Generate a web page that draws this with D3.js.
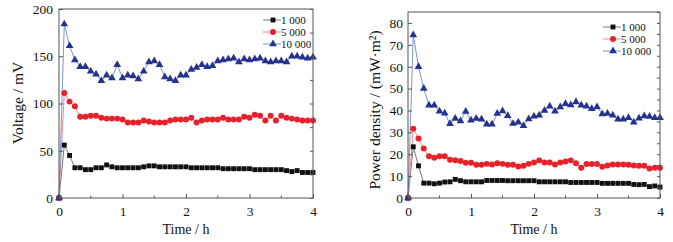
<!DOCTYPE html>
<html>
<head>
<meta charset="utf-8">
<script src="https://cdn.jsdelivr.net/npm/d3@7"></script>
<style>
  body { margin: 0; background: #fff; }
  svg { display: block; font-family: "Liberation Serif", "DejaVu Serif", serif; }
</style>
</head>
<body>
<div id="chart"></div>
<script>
// time points (h), every 5 min
const times = d3.range(49).map(i => i / 12);
const seriesNames = ['1 000', '5 000', '10 000'];

// voltage / mV
const volt1000 = [0, 56, 45, 32, 32, 30, 30, 32, 32, 35, 33, 32, 32, 32, 32, 32, 33, 34, 34, 33,
  33, 33, 33, 33, 33, 32, 32, 32, 32, 32, 32, 31, 31, 31, 31, 31, 31, 30, 30, 30,
  30, 30, 30, 29, 28, 29, 27, 27, 27];
const volt5000 = [0, 111, 102, 97, 86, 86, 87, 87, 85, 84, 84, 84, 83, 80, 80, 80, 82, 81, 80, 80,
  80, 82, 83, 83, 83, 85, 80, 82, 83, 83, 83, 85, 83, 83, 83, 86, 85, 88, 87, 82,
  87, 82, 87, 85, 84, 83, 82, 82, 82];
const volt10000 = [0, 184, 161, 146, 139, 139, 134, 131, 124, 130, 127, 141, 127, 130, 129, 126, 134, 144, 145, 141,
  128, 126, 124, 130, 130, 136, 138, 141, 139, 140, 145, 146, 147, 148, 144, 147, 146, 147, 148, 145,
  144, 145, 145, 144, 150, 150, 149, 148, 149];

// power density / (mW·m-2)
const pow1000 = [0, 23.4, 14.7, 6.8, 6.8, 6.5, 6.8, 7.3, 7.4, 8.5, 7.9, 7.4, 7.4, 7.4, 7.4, 8.0, 8.0, 8.0, 8.0, 7.9,
  7.9, 7.9, 7.9, 7.9, 7.9, 7.4, 7.4, 7.4, 7.4, 7.4, 7.4, 7.1, 7.1, 7.1, 7.1, 7.1, 7.1, 6.7, 6.7, 6.7,
  6.7, 6.7, 6.7, 6.2, 6.1, 6.2, 5.2, 5.5, 5.0];
const pow5000 = [0, 31.7, 27.2, 22.6, 19.1, 18.4, 19.1, 19.1, 17.5, 17.3, 16.9, 16.1, 16.1, 15.2, 15.2, 15.6, 15.3, 15.9, 15.6, 15.2,
  15.2, 14.4, 14.7, 15.6, 16.2, 17.2, 16.2, 16.2, 15.3, 16.2, 16.7, 17.2, 15.9, 13.8, 15.5, 15.5, 15.5, 14.3, 14.9, 15.3,
  15.3, 15.3, 15.2, 14.9, 14.7, 14.7, 13.5, 13.8, 13.8];
const pow10000 = [0, 74.5, 60, 50, 42.4, 42.4, 39.6, 38.7, 33.9, 36.3, 35.2, 39.5, 35.5, 36.3, 36, 33.7, 33.7, 38.6, 39.8, 37.6,
  34, 34.6, 33, 36.1, 37.3, 37.8, 40, 41.9, 39.6, 41.6, 43.1, 42.5, 43.9, 42.4, 41.9, 40.8, 41.6, 38.4, 38.6, 37.8,
  36, 36, 36.7, 34.6, 36.4, 37.5, 37.2, 36.7, 36.7];

const xTicks = [0, 1, 2, 3, 4];
const voltTicks = [0, 50, 100, 150, 200];
const powTicks = [0, 10, 20, 30, 40, 50, 60, 70, 80];

const markColor = ['#111', '#e8202a', '#24338f'];
const lineColor = ['#777', '#f08a8a', '#7d95d6'];
const symbols = [d3.symbolSquare, d3.symbolCircle, d3.symbolTriangle];
const symSize = [24, 28, 26];

const W = 673, H = 242;
const svg = d3.select('#chart').append('svg').attr('width', W).attr('height', H);

function drawPanel(cfg) {
  const g = svg.append('g');
  const x = d3.scaleLinear().domain([0, 4]).range([cfg.left, cfg.right]);
  const y = d3.scaleLinear().domain(cfg.yDomain).range([cfg.bottom, cfg.top]);

  // series lines
  cfg.series.forEach((vals, k) => {
    const pts = times.map((t, i) => [t, vals[i]]);
    g.append('path')
      .datum(pts)
      .attr('fill', 'none')
      .attr('stroke', lineColor[k])
      .attr('stroke-width', 1)
      .attr('d', d3.line().x(d => x(d[0])).y(d => y(d[1])));
  });
  cfg.series.forEach((vals, k) => {
    g.selectAll(null)
      .data(times.map((t, i) => [t, vals[i]]))
      .enter().append('path')
      .attr('transform', d => `translate(${x(d[0])},${y(d[1])})`)
      .attr('d', d3.symbol().type(symbols[k]).size(symSize[k]))
      .attr('fill', markColor[k]);
  });

  // frame
  g.append('rect')
    .attr('x', cfg.left).attr('y', cfg.top)
    .attr('width', cfg.right - cfg.left).attr('height', cfg.bottom - cfg.top)
    .attr('fill', 'none').attr('stroke', '#555').attr('stroke-width', 1);

  // x axis (inward ticks)
  const xa = g.append('g').attr('transform', `translate(0,${cfg.bottom})`)
    .call(d3.axisBottom(x).tickValues(xTicks).tickSize(-4).tickPadding(8).tickFormat(d3.format('d')));
  xa.append('g').selectAll('line').data([0.5, 1.5, 2.5, 3.5]).enter().append('line')
    .attr('x1', d => x(d)).attr('x2', d => x(d)).attr('y1', 0).attr('y2', -2.5).attr('stroke', '#555');

  // y axis left
  const ya = g.append('g').attr('transform', `translate(${cfg.left},0)`)
    .call(d3.axisLeft(y).tickValues(cfg.yTicks).tickSize(-4).tickPadding(cfg.pad));
  // mirrored ticks on right
  const yr = g.append('g').attr('transform', `translate(${cfg.right},0)`)
    .call(d3.axisRight(y).tickValues(cfg.minorTicks).tickSize(-3).tickFormat(''));

  [xa, ya, yr].forEach(a => {
    a.select('.domain').remove();
    a.selectAll('.tick line').attr('stroke', '#555');
    a.selectAll('text').attr('fill', '#111').attr('font-size', '13.5px')
      .attr('font-family', '"Liberation Serif", serif');
  });

  // titles
  g.append('text')
    .attr('x', (cfg.left + cfg.right) / 2).attr('y', 234)
    .attr('text-anchor', 'middle').attr('font-size', '14px').attr('fill', '#111')
    .text('Time / h');
  g.append('text')
    .attr('transform', `translate(${cfg.titleX},${cfg.titleY}) rotate(-90)`)
    .attr('text-anchor', 'middle').attr('font-size', '15.5px').attr('fill', '#111')
    .text(cfg.yTitle);

  // legend
  seriesNames.forEach((name, k) => {
    const ly = cfg.legY + k * 12;
    g.append('line')
      .attr('x1', cfg.legX).attr('x2', cfg.legX + 18).attr('y1', ly).attr('y2', ly)
      .attr('stroke', lineColor[k]).attr('stroke-width', 1);
    g.append('path')
      .attr('transform', `translate(${cfg.legX + 10},${ly})`)
      .attr('d', d3.symbol().type(symbols[k]).size(symSize[k]))
      .attr('fill', markColor[k]);
    g.append('text')
      .attr('x', cfg.legX + 18).attr('y', ly + 4)
      .attr('font-size', '11px').attr('fill', '#111')
      .text(name);
  });
}

drawPanel({
  left: 59, right: 313, top: 9, bottom: 198,
  yDomain: [0, 200], yTicks: voltTicks, minorTicks: d3.range(0, 201, 25),
  series: [volt1000, volt5000, volt10000],
  yTitle: 'Voltage / mV', titleX: 23, titleY: 103, pad: 6,
  legX: 263, legY: 20
});
drawPanel({
  left: 408, right: 660, top: 12, bottom: 198,
  yDomain: [0, 85], yTicks: powTicks, minorTicks: d3.range(0, 86, 5),
  series: [pow1000, pow5000, pow10000],
  yTitle: 'Power density / (mW·m²)', titleX: 380, titleY: 110, pad: 5,
  legX: 603, legY: 27
});
</script>
</body>
</html>
